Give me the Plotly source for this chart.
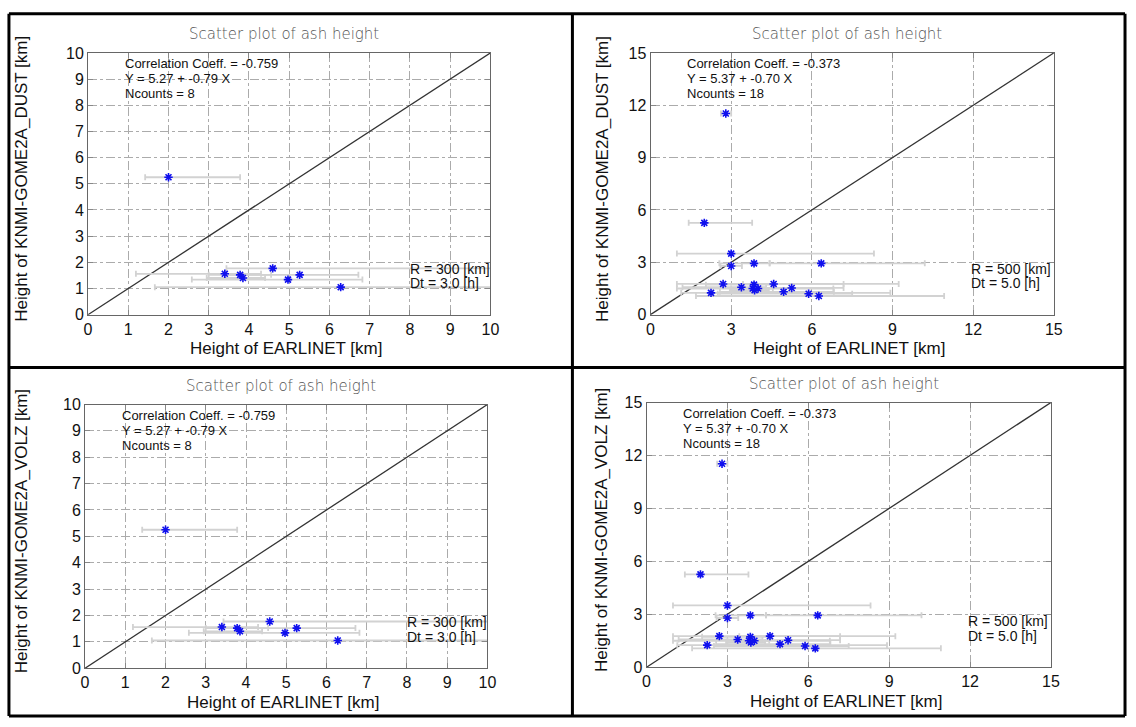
import plotly.graph_objects as go

# ---------------- data ----------------
# R = 300 km, Dt = 3 h  (8 collocations)
earlinet_300 = [2.00, 3.40, 3.78, 3.85, 4.59, 4.97, 5.26, 6.28]
gome_300 = [5.25, 1.56, 1.52, 1.40, 1.77, 1.34, 1.52, 1.05]
earlinet_300_min = [1.42, 1.19, 3.00, 2.95, 3.44, 2.58, 3.40, 1.66]
earlinet_300_max = [3.78, 4.30, 4.55, 4.40, 10.60, 6.82, 6.72, 10.92]

# R = 500 km, Dt = 5 h  (18 collocations)
earlinet_500 = [2.00, 3.38, 3.80, 3.87, 4.58, 4.95, 5.25, 6.26,
                3.00, 3.00, 3.85, 6.35, 2.70, 2.25, 3.85, 4.00, 5.88, 2.80]
gome_500 = [5.26, 1.57, 1.50, 1.40, 1.76, 1.31, 1.53, 1.07,
            3.50, 2.79, 2.94, 2.94, 1.76, 1.25, 1.72, 1.50, 1.20, 11.53]
earlinet_500_min = [1.42, 1.19, 3.00, 2.95, 3.44, 2.58, 3.40, 1.69,
                    0.98, 2.60, 2.56, 4.43, 0.98, 1.14, 2.06, 0.98, 2.50, 2.62]
earlinet_500_max = [3.78, 4.30, 4.55, 4.40, 9.23, 6.82, 7.18, 10.92,
                    8.31, 3.40, 4.43, 10.20, 7.18, 8.92, 4.60, 6.80, 7.50, 3.00]

stats_300 = ["Correlation Coeff. = -0.759", "Y = 5.27 + -0.79 X", "Ncounts = 8"]
stats_500 = ["Correlation Coeff. = -0.373", "Y = 5.37 + -0.70 X", "Ncounts = 18"]
window_300 = ["R = 300 [km]", "Dt = 3.0 [h]"]
window_500 = ["R = 500 [km]", "Dt = 5.0 [h]"]

ticks_10 = [0, 1, 2, 3, 4, 5, 6, 7, 8, 9, 10]
ticks_15 = [0, 3, 6, 9, 12, 15]

title_text = "Scatter plot of ash height"
xtitle = "Height of EARLINET [km]"
ytitle_dust = "Height of KNMI-GOME2A_DUST [km]"
ytitle_volz = "Height of KNMI-GOME2A_VOLZ [km]"

W, H = 1136, 727

# panels: (pixel x0, x1, y_top, y_bottom), data
panels = [
    dict(px=(85, 492, 46, 314), x=earlinet_300, y=gome_300, lo=earlinet_300_min, hi=earlinet_300_max,
         vmax=10, ticks=ticks_10, stats=stats_300, win=window_300, ytitle=ytitle_dust, ytx=18),
    dict(px=(654, 1062, 46, 314), x=earlinet_500, y=gome_500, lo=earlinet_500_min, hi=earlinet_500_max,
         vmax=15, ticks=ticks_15, stats=stats_500, win=window_500, ytitle=ytitle_dust, ytx=606),
    dict(px=(82, 489, 406, 676), x=earlinet_300, y=gome_300, lo=earlinet_300_min, hi=earlinet_300_max,
         vmax=10, ticks=ticks_10, stats=stats_300, win=window_300, ytitle=ytitle_volz, ytx=18),
    dict(px=(650, 1059, 404, 675), x=earlinet_500, y=gome_500, lo=earlinet_500_min, hi=earlinet_500_max,
         vmax=15, ticks=ticks_15, stats=stats_500, win=window_500, ytitle=ytitle_volz, ytx=604),
]

fig = go.Figure()
annotations = []
shapes = []
layout = {}

def fx(px):
    return px / W

def fy(py):
    return 1 - py / H

for i, p in enumerate(panels, start=1):
    x0, x1, yt, yb = p["px"]
    sfx = "" if i == 1 else str(i)
    xa, ya = "x" + sfx, "y" + sfx
    axcommon = dict(
        showgrid=True, gridcolor="#ababab", griddash="dashdot", gridwidth=1,
        zeroline=False, showline=True, linecolor="#666666", linewidth=1, mirror="ticks",
        ticks="inside", ticklen=5, tickcolor="#888888",
        tickfont=dict(family="Liberation Sans", size=16, color="#111111"),
        range=[0, p["vmax"]], tickvals=p["ticks"], fixedrange=True,
    )
    layout["xaxis" + sfx] = dict(axcommon, domain=[fx(x0), fx(x1)], anchor=ya)
    layout["yaxis" + sfx] = dict(axcommon, domain=[fy(yb), fy(yt)], anchor=xa)

    # 1:1 line
    fig.add_trace(go.Scatter(x=[0, p["vmax"]], y=[0, p["vmax"]], mode="lines",
                             line=dict(color="#333333", width=1.3), xaxis=xa, yaxis=ya,
                             showlegend=False, hoverinfo="skip"))
    # error bars
    plus = [h - v for h, v in zip(p["hi"], p["x"])]
    minus = [v - l for l, v in zip(p["lo"], p["x"])]
    fig.add_trace(go.Scatter(x=p["x"], y=p["y"], mode="markers",
                             marker=dict(size=1, color="rgba(0,0,0,0)"),
                             error_x=dict(type="data", array=plus, arrayminus=minus, symmetric=False,
                                          color="#d2d2d2", thickness=1.8, width=3),
                             xaxis=xa, yaxis=ya, showlegend=False, cliponaxis=True))
    # markers
    fig.add_trace(go.Scatter(x=p["x"], y=p["y"], mode="markers",
                             marker=dict(symbol="asterisk-open", size=7, color="#1010ee",
                                         line=dict(color="#1010ee", width=1.6)),
                             xaxis=xa, yaxis=ya, showlegend=False))

    cx = (x0 + x1) / 2
    # title
    annotations.append(dict(text=title_text, x=fx(cx - 5), y=fy(yt - 19), xref="paper", yref="paper",
                            showarrow=False, xanchor="center", yanchor="middle",
                            font=dict(family="DejaVu Sans", size=15, color="#555555", weight=300)))
    # x title
    annotations.append(dict(text=xtitle, x=fx(cx - 3), y=fy(yb + 35), xref="paper", yref="paper",
                            showarrow=False, xanchor="center", yanchor="middle",
                            font=dict(family="Liberation Sans", size=17, color="#111111")))
    # y title
    annotations.append(dict(text=p["ytitle"], x=fx(p["ytx"]), y=fy((yt + yb) / 2 - 5), xref="paper", yref="paper",
                            showarrow=False, xanchor="center", yanchor="middle", textangle=-90,
                            font=dict(family="Liberation Sans", size=17, color="#111111")))
    # stats text
    for k, s in enumerate(p["stats"]):
        annotations.append(dict(text=s, x=fx(x0 + 35), y=fy(yt + 11 + 15.5 * k), xref="paper", yref="paper",
                                showarrow=False, xanchor="left", yanchor="middle",
                                font=dict(family="Liberation Sans", size=13, color="#111111")))
    # window text
    for k, s in enumerate(p["win"]):
        annotations.append(dict(text=s, x=fx(x1 - 83 if p["vmax"] == 10 else x1 - 86),
                                y=fy(yb - 47 + 15 * k), xref="paper", yref="paper",
                                showarrow=False, xanchor="left", yanchor="middle",
                                font=dict(family="Liberation Sans", size=14, color="#111111")))

# table borders
border = dict(color="black", width=3)
for (a, b, c, d) in [(5, 6, 1134, 6), (5, 725, 1134, 725), (5, 6, 5, 725), (1134, 6, 1134, 725),
                     (575, 6, 575, 725), (5, 368, 1134, 368)]:
    shapes.append(dict(type="line", xref="paper", yref="paper", x0=fx(a), y0=fy(b), x1=fx(c), y1=fy(d),
                       line=border))

fig.update_layout(**layout)
fig.update_layout(autosize=True, margin=dict(l=0, r=0, t=0, b=0),
                  paper_bgcolor="white", plot_bgcolor="white",
                  annotations=annotations, shapes=shapes, showlegend=False)

pin_script = (
    "document.documentElement.style.margin='0';"
    "document.body.style.margin='0';document.body.style.overflow='hidden';"
)
fig.write_html("out.html", config={"displayModeBar": False, "responsive": True},
               default_width="100vw", default_height="100vh", post_script=pin_script)
